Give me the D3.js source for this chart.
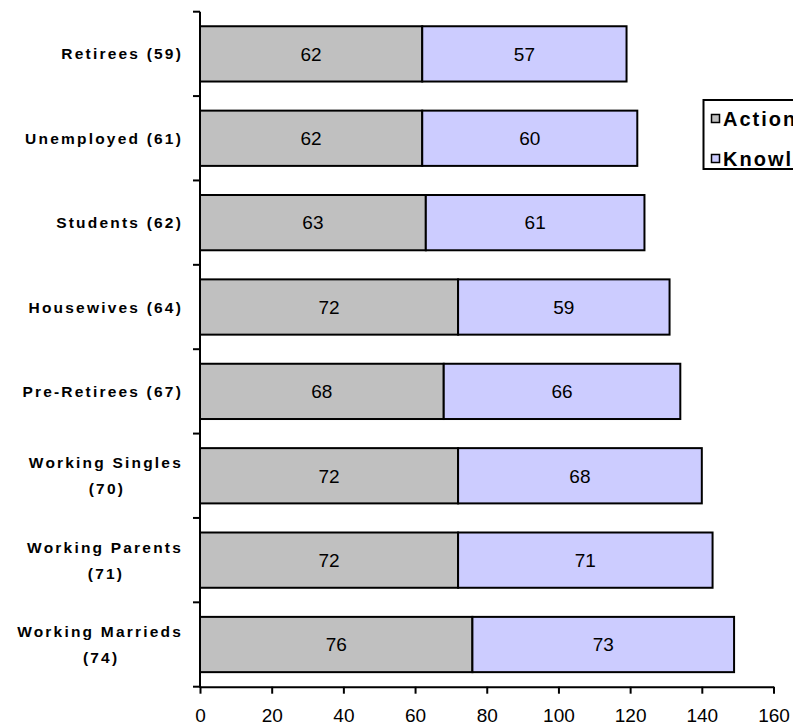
<!DOCTYPE html>
<html>
<head>
<meta charset="utf-8">
<script src="https://cdn.jsdelivr.net/npm/d3@7"></script>
<style>
  html, body { margin: 0; padding: 0; background: #fff; }
  svg { display: block; font-family: "Liberation Sans", Arial, sans-serif; }
</style>
</head>
<body>
<svg id="chart" width="793" height="728"></svg>
<script>
const categories = [
  ["Retirees (59)"],
  ["Unemployed (61)"],
  ["Students (62)"],
  ["Housewives (64)"],
  ["Pre-Retirees (67)"],
  ["Working Singles", "(70)"],
  ["Working Parents", "(71)"],
  ["Working Marrieds", "(74)"]
];
const actionValues = [62, 62, 63, 72, 68, 72, 72, 76];
const knowledgeValues = [57, 60, 61, 59, 66, 68, 71, 73];
const seriesNames = ["Action", "Knowledge"];
const seriesColors = ["#C0C0C0", "#CCCCFF"];
const xTicks = [0, 20, 40, 60, 80, 100, 120, 140, 160];

const FONT = "'Liberation Sans', Arial, sans-serif";
const svg = d3.select("#chart");
const keys = categories.map(c => c.join(" "));
const rows = keys.map((k, i) => ({ key: k, Action: actionValues[i], Knowledge: knowledgeValues[i] }));

const x = d3.scaleLinear().domain([0, 160]).range([200, 773.5]);
const y = d3.scaleBand().domain(keys).range([11.7, 686.7]).paddingInner(0.345).paddingOuter(0.1725);

const stack = d3.stack().keys(seriesNames)(rows);

// bars
stack.forEach((layer, si) => {
  svg.append("g").selectAll("rect").data(layer).join("rect")
    .attr("x", d => x(d[0]))
    .attr("y", d => y(d.data.key))
    .attr("width", d => x(d[1]) - x(d[0]))
    .attr("height", y.bandwidth())
    .attr("fill", seriesColors[si])
    .attr("stroke", "#000")
    .attr("stroke-width", 2);
  svg.append("g").selectAll("text").data(layer).join("text")
    .attr("x", d => (x(d[0]) + x(d[1])) / 2)
    .attr("y", d => y(d.data.key) + y.bandwidth() / 2)
    .attr("dy", "0.36em")
    .attr("text-anchor", "middle")
    .attr("font-family", FONT)
    .attr("font-size", 19)
    .attr("fill", "#000")
    .text(d => d[1] - d[0]);
});

// y axis
const step = y.step();
const yTop = 11.7, yBot = 686.7;
const yAxisG = svg.append("g");
yAxisG.append("line").attr("x1", 200).attr("x2", 200).attr("y1", yTop).attr("y2", yBot + 1)
  .attr("stroke", "#000").attr("stroke-width", 2);
yAxisG.selectAll("line.tick").data(d3.range(keys.length + 1)).join("line")
  .attr("class", "tick")
  .attr("x1", 193).attr("x2", 200)
  .attr("y1", i => yTop + i * step).attr("y2", i => yTop + i * step)
  .attr("stroke", "#000").attr("stroke-width", 2);

// category labels
categories.forEach((lines, i) => {
  const cy = y(keys[i]) + y.bandwidth() / 2;
  const t = svg.append("text")
    .attr("font-family", FONT)
    .attr("font-size", 15.5)
    .attr("font-weight", "bold")
    .attr("letter-spacing", "2.2px")
    .attr("fill", "#000");
  if (lines.length === 1) {
    t.append("tspan").attr("x", 183).attr("y", cy).attr("dy", "0.36em")
      .attr("text-anchor", "end").text(lines[0]);
  } else {
    t.append("tspan").attr("x", 183).attr("y", cy - 13).attr("dy", "0.36em")
      .attr("text-anchor", "end").text(lines[0]);
    const w = t.node().getComputedTextLength();
    t.append("tspan").attr("x", 183 - w / 2 + 1).attr("y", cy + 13).attr("dy", "0.36em")
      .attr("text-anchor", "middle").text(lines[1]);
  }
});

// x axis
const xAxisG = svg.append("g").attr("transform", `translate(0,${yBot})`)
  .call(d3.axisBottom(x).tickValues(xTicks).tickSize(7).tickPadding(15).tickSizeOuter(0));
xAxisG.select(".domain").attr("stroke", "#000").attr("stroke-width", 2);
xAxisG.selectAll(".tick line").attr("stroke", "#000").attr("stroke-width", 2);
xAxisG.selectAll(".tick text").attr("font-size", 19).attr("font-family", FONT).attr("fill", "#000");

// legend
const leg = svg.append("g");
leg.append("rect").attr("x", 703.5).attr("y", 100).attr("width", 140).attr("height", 69)
  .attr("fill", "#fff").attr("stroke", "#000").attr("stroke-width", 2);
seriesNames.forEach((name, i) => {
  const cy = 119 + i * 40;
  leg.append("rect").attr("x", 711.5).attr("y", cy - 4.5).attr("width", 8).attr("height", 8)
    .attr("fill", seriesColors[i]).attr("stroke", "#000").attr("stroke-width", 1.5);
  leg.append("text").attr("x", 723).attr("y", cy).attr("dy", "0.36em")
    .attr("font-family", FONT)
    .attr("font-size", 20).attr("font-weight", "bold").attr("letter-spacing", "2px")
    .attr("fill", "#000").text(name);
});
</script>
</body>
</html>
